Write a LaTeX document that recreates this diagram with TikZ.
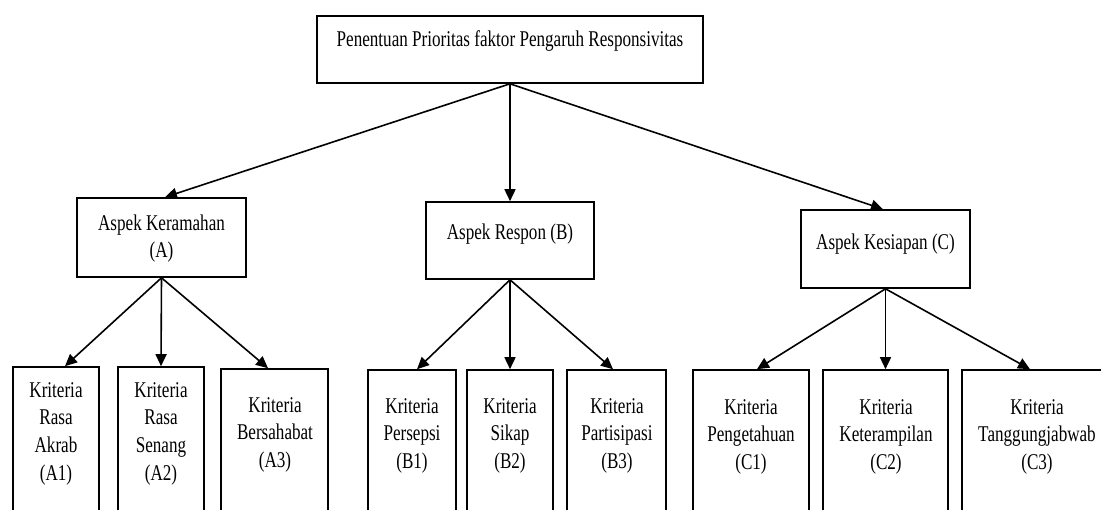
\documentclass[tikz,border=0pt]{standalone}
\usepackage{fontspec}
\setmainfont{Liberation Serif}[FakeStretch=0.76]
\usetikzlibrary{arrows.meta}
\begin{document}
\begin{tikzpicture}[x=1pt,y=-1pt,
  box/.style={draw, line width=1.6pt, inner sep=0pt},
  lbl/.style={align=center, inner sep=0pt, font=\fontsize{22.5}{27.7}\selectfont},
  arr/.style={line width=1.6pt, -{Triangle[length=12pt,width=11pt]}}]
\clip (0,0) rectangle (1101,510);
\fill[white] (0,0) rectangle (1101,510);
% top
\node[box, minimum width=386pt, minimum height=67pt] (top) at (510,49.5) {};
\node[lbl] (ttop) at (510,41.5) {Penentuan Prioritas faktor Pengaruh Responsivitas};
% aspects
\node[box, minimum width=169pt, minimum height=79pt] (A) at (161.5,237.5) {};
\node[lbl] (tA) at (161.5,238.5) {Aspek Keramahan\\(A)};
\node[box, minimum width=168pt, minimum height=77pt] (B) at (510,240.5) {};
\node[lbl] (tB) at (510,234.5) {Aspek Respon (B)};
\node[box, minimum width=169pt, minimum height=78pt] (C) at (885.5,249) {};
\node[lbl] (tC) at (885.5,244.5) {Aspek Kesiapan (C)};
% criteria boxes
\node[box, minimum width=86pt, minimum height=173pt] (A1) at (56,453.5) {};
\node[box, minimum width=86pt, minimum height=173pt] (A2) at (161,453.5) {};
\node[box, minimum width=107pt, minimum height=171pt] (A3) at (274.5,454.5) {};
\node[box, minimum width=88pt, minimum height=170pt] (B1) at (412,455) {};
\node[box, minimum width=86pt, minimum height=170pt] (B2) at (510,455) {};
\node[box, minimum width=99pt, minimum height=170pt] (B3) at (616.5,455) {};
\node[box, minimum width=116pt, minimum height=170pt] (C1) at (751,455) {};
\node[box, minimum width=125pt, minimum height=170pt] (C2) at (885.5,455) {};
\node[box, minimum width=150pt, minimum height=170pt] (C3) at (1037,455) {};
% criteria texts
\node[lbl] (tA1) at (56,433.6) {Kriteria\\Rasa\\Akrab\\(A1)};
\node[lbl] (tA2) at (161,433.6) {Kriteria\\Rasa\\Senang\\(A2)};
\node[lbl] (tA3) at (275,434.7) {Kriteria\\Bersahabat\\(A3)};
\node[lbl] (tB1) at (412,435.8) {Kriteria\\Persepsi\\(B1)};
\node[lbl] (tB2) at (510,435.8) {Kriteria\\Sikap\\(B2)};
\node[lbl] (tB3) at (617,435.8) {Kriteria\\Partisipasi\\(B3)};
\node[lbl] (tC1) at (751,436.8) {Kriteria\\Pengetahuan\\(C1)};
\node[lbl] (tC2) at (886,436.8) {Kriteria\\Keterampilan\\(C2)};
\node[lbl] (tC3) at (1037,436.8) {Kriteria\\Tanggungjabwab\\(C3)};
% connectors
\draw[arr] (top.south) -- ([xshift=3.5pt]A.north);
\draw[arr] (top.south) -- (B.north);
\draw[arr] (top.south) -- ([xshift=-2.5pt]C.north);
\draw[arr] (A.south) -- ([xshift=9pt]A1.north);
\draw[arr] (A.south) -- (A2.north);
\draw[arr] (A.south) -- ([xshift=-6.5pt]A3.north);
\draw[arr] (B.south) -- ([xshift=5pt]B1.north);
\draw[arr] (B.south) -- (B2.north);
\draw[arr] (B.south) -- ([xshift=-3.5pt]B3.north);
\draw[arr] (C.south) -- ([xshift=6pt]C1.north);
\draw[arr] (C.south) -- (C2.north);
\draw[arr] (C.south) -- ([xshift=-7pt]C3.north);
\end{tikzpicture}
\end{document}
